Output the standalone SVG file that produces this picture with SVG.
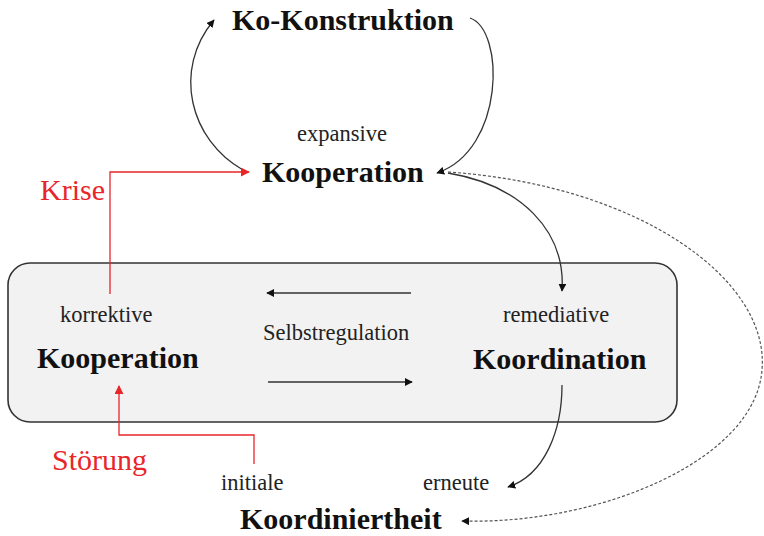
<svg xmlns="http://www.w3.org/2000/svg" width="764" height="536" viewBox="0 0 764 536">
  <style>
    .b { font-family: "Liberation Serif", "Times New Roman", serif; font-weight: bold; font-size: 30px; fill: #111; }
    .r { font-family: "Liberation Serif", "Times New Roman", serif; font-size: 22.5px; fill: #222; }
    .red { font-family: "Liberation Serif", "Times New Roman", serif; font-size: 30px; fill: #e8262a; }
    .ln { fill: none; stroke: #333; stroke-width: 1.3; }
    .dot { fill: none; stroke: #555; stroke-width: 1.2; stroke-dasharray: 3 2; }
    .rl { fill: none; stroke: #e8262a; stroke-width: 1.3; }
  </style>
  <defs>
    <marker id="ah" viewBox="0 0 10 10" refX="9" refY="5" markerWidth="8" markerHeight="8" markerUnits="userSpaceOnUse" orient="auto">
      <path d="M0,0 L10,5 L0,10 Z" fill="#111"/>
    </marker>
    <marker id="ahr" viewBox="0 0 10 10" refX="9" refY="5" markerWidth="9" markerHeight="9" markerUnits="userSpaceOnUse" orient="auto">
      <path d="M0,0 L10,5 L0,10 Z" fill="#e8262a"/>
    </marker>
  </defs>

  <!-- Selbstregulation container -->
  <g id="selbstregulation-box">
    <rect x="8" y="263" width="669" height="159" rx="22" ry="22" fill="#f2f2f2" stroke="#333" stroke-width="1.6"/>
  </g>

  <g id="connectors">
    <!-- loop through Ko-Konstruktion -->
    <path class="ln" d="M243,170 C190,140 172,70 214,20" marker-end="url(#ah)"/>
    <path class="ln" d="M470,18 C505,30 505,150 437,173" marker-end="url(#ah)"/>
    <!-- expansive Kooperation to remediative Koordination -->
    <path class="ln" d="M448,173 C520,185 566,230 562,291" marker-end="url(#ah)"/>
    <!-- dotted return to Koordiniertheit -->
    <path class="dot" d="M448,172 C640,185 770,280 762,370 C755,460 600,525 462,521" marker-end="url(#ah)"/>
    <!-- remediative Koordination to erneute Koordiniertheit -->
    <path class="ln" d="M562,385 C562,430 545,475 508,487" marker-end="url(#ah)"/>
    <!-- Selbstregulation arrows -->
    <path class="ln" d="M411,293 L267,293" marker-end="url(#ah)"/>
    <path class="ln" d="M268,382 L412,382" marker-end="url(#ah)"/>
    <!-- Krise -->
    <path class="rl" d="M110,294 L110,172 L249,172" marker-end="url(#ahr)"/>
    <!-- Störung -->
    <path class="rl" d="M254,464 L254,435 L119,435 L119,386" marker-end="url(#ahr)"/>
  </g>

  <g id="ko-konstruktion">
    <text class="b" x="232" y="30">Ko-Konstruktion</text>
  </g>
  <g id="expansive-kooperation">
    <text class="r" x="297" y="141">expansive</text>
    <text class="b" x="262" y="182">Kooperation</text>
  </g>
  <g id="korrektive-kooperation">
    <text class="r" x="60" y="322">korrektive</text>
    <text class="b" x="37" y="368">Kooperation</text>
  </g>
  <g id="selbstregulation">
    <text class="r" x="263" y="340">Selbstregulation</text>
  </g>
  <g id="remediative-koordination">
    <text class="r" x="503" y="322">remediative</text>
    <text class="b" x="473" y="369">Koordination</text>
  </g>
  <g id="koordiniertheit">
    <text class="r" x="221" y="490">initiale</text>
    <text class="r" x="423" y="490">erneute</text>
    <text class="b" x="240" y="529">Koordiniertheit</text>
  </g>
  <g id="labels">
    <text class="red" x="40" y="200">Krise</text>
    <text class="red" x="52" y="470">Störung</text>
  </g>
</svg>
